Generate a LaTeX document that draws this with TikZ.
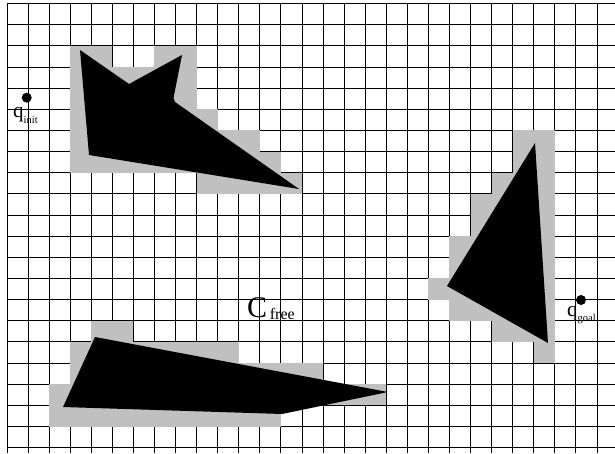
\documentclass[tikz,border=0pt]{standalone}
\usepackage{fontspec}
\setmainfont{Liberation Serif}
\definecolor{cgray}{RGB}{192,192,192}
\newcommand{\grayrow}[3]{\fill[cgray] ({7+21.07*#2},{3.5+21.15*#1}) rectangle ({7+21.07*(#3+1)},{3.5+21.15*(#1+1)});}
\begin{document}
\begin{tikzpicture}[x=1pt,y=-1pt,
  gridline/.style={line width=0.9pt,black},
  obstacle/.style={fill=black,draw=none},
  dotstyle/.style={circle,fill=black,inner sep=0pt,minimum size=10pt},
  lbl/.style={inner sep=0pt,anchor=base west}]
\useasboundingbox (0,0) rectangle (615,453);
\fill[white] (0,0) rectangle (615,453);
% grid
\foreach \i in {0,...,28} \draw[gridline] ({7+21.07*\i},3.5) -- ({7+21.07*\i},453);
\foreach \j in {0,...,21} \draw[gridline] (7,{3.5+21.15*\j}) -- (615,{3.5+21.15*\j});
% C-obstacle cells, obstacle 1
\grayrow{2}{3}{4}
\grayrow{2}{7}{8}
\grayrow{3}{3}{8}
\grayrow{4}{3}{8}
\grayrow{5}{3}{9}
\grayrow{6}{3}{11}
\grayrow{7}{3}{12}
\grayrow{8}{9}{13}
% obstacle 2
\grayrow{6}{24}{25}
\grayrow{7}{24}{25}
\grayrow{8}{23}{25}
\grayrow{9}{22}{25}
\grayrow{10}{22}{25}
\grayrow{11}{21}{25}
\grayrow{12}{21}{25}
\grayrow{13}{20}{25}
\grayrow{14}{21}{25}
\grayrow{15}{23}{25}
\grayrow{16}{25}{25}
% obstacle 3
\grayrow{15}{4}{5}
\grayrow{16}{3}{10}
\grayrow{17}{3}{14}
\grayrow{18}{2}{17}
\grayrow{19}{2}{12}
% obstacles
\fill[obstacle] (80,50) -- (129,84) -- (182,55) -- (173.5,98) -- (175,102) -- (299,189) -- (89,155) -- cycle;
\fill[obstacle] (535,143) -- (447,286) -- (548,343) -- cycle;
\fill[obstacle] (95,337) -- (388,392) -- (282,414) -- (63,407) -- cycle;
% configurations
\node[dotstyle] (qinitdot) at (26.7,97.7) {};
\node[dotstyle] (qgoaldot) at (581,300) {};
\node[lbl] (qinit) at (13,117) {{\fontsize{21}{21}\selectfont q}{\fontsize{10.5}{10.5}\selectfont\raisebox{-6pt}{init}}};
\node[lbl] (qgoal) at (567,316.5) {{\fontsize{21}{21}\selectfont q}{\fontsize{10.5}{10.5}\selectfont\raisebox{-4.5pt}{goal}}};
\node[lbl] (cfree) at (247,317) {{\fontsize{30}{30}\selectfont C}{\fontsize{16}{16}\selectfont\raisebox{-2.5pt}{\,free}}};
\end{tikzpicture}
\end{document}
